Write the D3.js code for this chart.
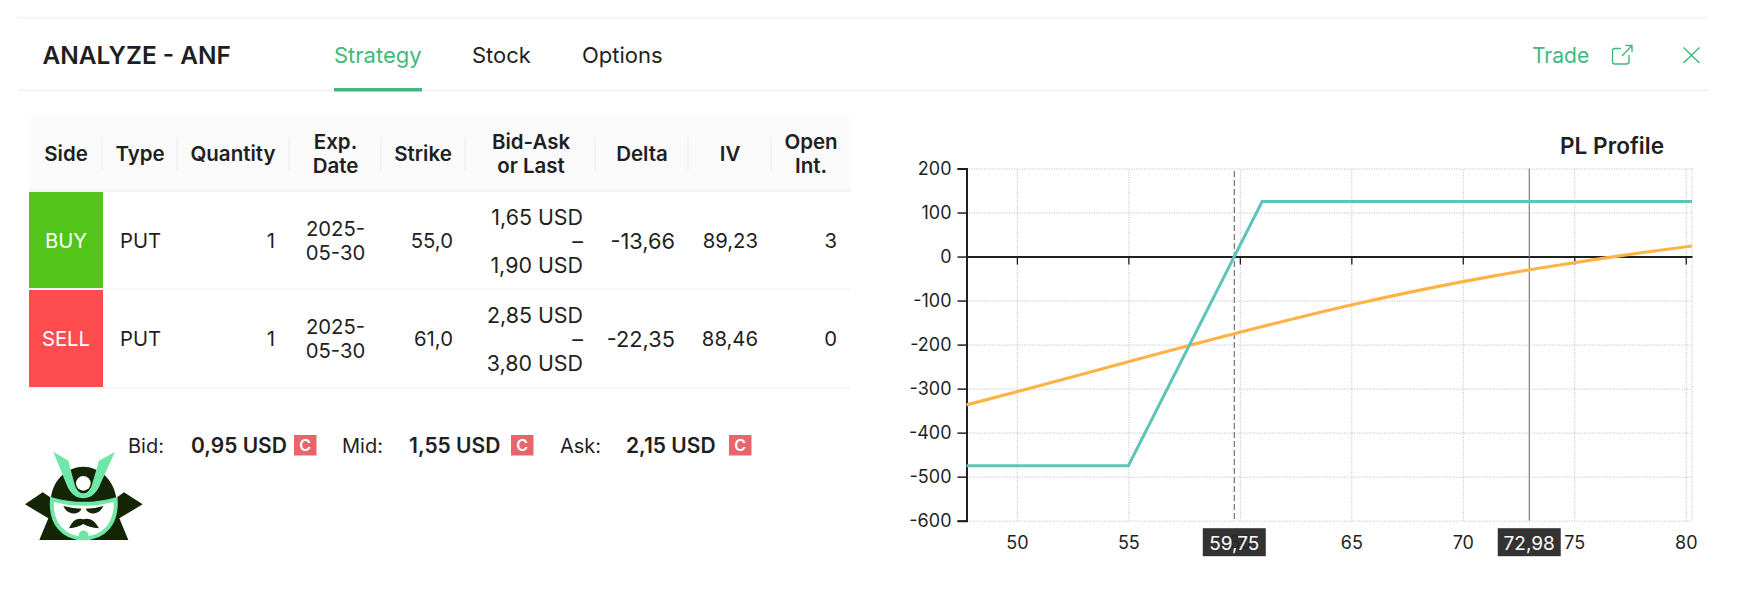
<!DOCTYPE html>
<html>
<head>
<meta charset="utf-8">
<script src="https://cdn.jsdelivr.net/npm/d3@7"></script>
<style>
  html, body { margin: 0; padding: 0; background: #fff; }
  svg { display: block; font-family: Inter, "Noto Sans", sans-serif; }
  .grid line { stroke: #c4c4c4; stroke-dasharray: 1.2 1.3; }
  .grid path { display: none; }
</style>
</head>
<body>
<div id="graf"></div>
<script>
// header
tabs = ['Strategy', 'Stock', 'Options']

// table
headers = [['Side'], ['Type'], ['Quantity'], ['Exp.', 'Date'], ['Strike'], ['Bid-Ask', 'or Last'], ['Delta'], ['IV'], ['Open', 'Int.']]
sides = ['BUY', 'SELL']
types = ['PUT', 'PUT']
quantities = ['1', '1']
expDates = [['2025-', '05-30'], ['2025-', '05-30']]
strikes = ['55,0', '61,0']
bidAsk = [['1,65 USD', '–', '1,90 USD'], ['2,85 USD', '–', '3,80 USD']]
deltas = ['-13,66', '-22,35']
ivs = ['89,23', '88,46']
openInts = ['3', '0']

// quotes
quoteLabels = ['Bid:', 'Mid:', 'Ask:']
quoteValues = ['0,95 USD', '1,55 USD', '2,15 USD']

// PL profile
price = [47.74, 55, 61, 80.28]
plExpiry = [-475, -475, 125, 125]
priceNow = [47.74, 50, 55, 60, 65, 70, 72.98, 75, 76.8, 80.28]
plNow = [-337, -307, -239, -172, -110, -57, -30, -14, 0, 24]
xTicks = [50, 55, 60, 65, 70, 75, 80]
yTicks = [200, 100, 0, -100, -200, -300, -400, -500, -600]
breakEven = 59.75
spot = 72.98

svg = d3.select('#graf').append('svg')
  .attr('width', 1754)
  .attr('height', 598)

GREEN = '#3fb97c'
INK = '#1f1f1f'

// header lines and tabs
svg.append('line').attr('x1', 18).attr('x2', 1709).attr('y1', 17.5).attr('y2', 17.5)
  .attr('stroke', '#f3f3f3').attr('stroke-width', 1.5)
svg.append('line').attr('x1', 18).attr('x2', 1709).attr('y1', 90.5).attr('y2', 90.5)
  .attr('stroke', '#efefef').attr('stroke-width', 1.5)

svg.append('text').attr('x', 42.5).attr('y', 64)
  .attr('font-size', 24.4).attr('font-weight', 600).attr('fill', INK)
  .text('ANALYZE - ANF')

tabX = [334, 472, 582]
svg.selectAll('.tab').data(tabs).enter().append('text')
  .attr('class', 'tab')
  .attr('x', (d, i) => tabX[i]).attr('y', 63)
  .attr('font-size', 22)
  .attr('fill', (d, i) => i == 0 ? GREEN : INK)
  .text(d => d)
svg.append('rect').attr('x', 334).attr('y', 88).attr('width', 88).attr('height', 3.5).attr('fill', GREEN)

svg.append('text').attr('x', 1532).attr('y', 63)
  .attr('font-size', 21).attr('fill', GREEN).text('Trade')

// external link icon
icon = svg.append('g').attr('fill', 'none').attr('stroke', GREEN).attr('stroke-width', 1.4)
icon.append('path').attr('d', 'M1621,48.5 H1615 Q1612.5,48.5 1612.5,51 V61.5 Q1612.5,64 1615,64 H1626.5 Q1629,64 1629,61.5 V55')
icon.append('path').attr('d', 'M1622,56 L1632,45.5 M1625.5,45.5 H1632 V52')
// close icon
svg.append('path').attr('d', 'M1683.5,47.5 L1699.5,63 M1699.5,47.5 L1683.5,63')
  .attr('stroke', GREEN).attr('stroke-width', 1.4).attr('fill', 'none')

// table
svg.append('path').attr('d', 'M29,190.5 V123 Q29,117 35,117 H845 Q851,117 851,123 V190.5 Z').attr('fill', '#fafafa')
svg.append('line').attr('x1', 29).attr('x2', 851).attr('y1', 191).attr('y2', 191).attr('stroke', '#efefef').attr('stroke-width', 1.5)
svg.append('line').attr('x1', 29).attr('x2', 851).attr('y1', 289).attr('y2', 289).attr('stroke', '#f0f0f0').attr('stroke-width', 1.2)
svg.append('line').attr('x1', 29).attr('x2', 851).attr('y1', 388).attr('y2', 388).attr('stroke', '#f0f0f0').attr('stroke-width', 1.2)

sepX = [102, 177, 289, 381, 465, 595, 688, 771]
svg.selectAll('.sep').data(sepX).enter().append('line')
  .attr('class', 'sep')
  .attr('x1', d => d).attr('x2', d => d)
  .attr('y1', 137).attr('y2', 170)
  .attr('stroke', '#ececec')

headX = [66, 140, 233, 335.5, 423, 531, 642, 730, 811]
headers.forEach((lines, i) => {
  lines.forEach((t, j) => {
    svg.append('text')
      .attr('x', headX[i])
      .attr('y', lines.length == 1 ? 161 : 149 + j * 24)
      .attr('text-anchor', 'middle')
      .attr('font-size', 20.5).attr('font-weight', 600).attr('fill', INK)
      .text(t)
  })
})

rowY = [241, 339]
sideColor = ['#52c41a', '#ff4d4f']
cellTop = [192, 290]

sides.forEach((s, i) => {
  svg.append('rect').attr('x', 29).attr('y', cellTop[i]).attr('width', 74).attr('height', i == 0 ? 96 : 97)
    .attr('fill', sideColor[i])
  cell(66, rowY[i], 'middle', s, '#fff')
  cell(120, rowY[i], 'start', types[i])
  cell(275, rowY[i], 'end', quantities[i])
  expDates[i].forEach((t, j) => cell(335.5, rowY[i] - 12 + j * 24, 'middle', t))
  cell(453, rowY[i], 'end', strikes[i])
  bidAsk[i].forEach((t, j) => cell(583, rowY[i] - 24 + j * 24, 'end', t, INK, 21.4))
  cell(675, rowY[i], 'end', deltas[i], INK, 21.8)
  cell(758, rowY[i], 'end', ivs[i])
  cell(837, rowY[i], 'end', openInts[i])
})

function cell(x, y, anchor, t, color, size) {
  svg.append('text')
    .attr('x', x).attr('y', y)
    .attr('dy', '0.36em')
    .attr('text-anchor', anchor)
    .attr('font-size', size || 20.3)
    .attr('fill', color || INK)
    .text(t)
}

// quotes
labelX = [128, 342, 560]
valueX = [191, 409, 626]
badgeX = [294, 511, 729]
quoteLabels.forEach((q, i) => {
  svg.append('text').attr('x', labelX[i]).attr('y', 445.5).attr('dy', '0.36em')
    .attr('font-size', 20).attr('fill', INK).text(q)
  svg.append('text').attr('x', valueX[i]).attr('y', 445.5).attr('dy', '0.36em')
    .attr('font-size', 21).attr('font-weight', 600).attr('fill', INK).text(quoteValues[i])
  svg.append('rect').attr('x', badgeX[i]).attr('y', 435).attr('width', 22.5).attr('height', 20.5).attr('fill', '#e8666b')
  svg.append('text').attr('x', badgeX[i] + 11.2).attr('y', 445.5).attr('dy', '0.36em')
    .attr('text-anchor', 'middle')
    .attr('font-size', 16).attr('font-weight', 600).attr('fill', '#fff').text('C')
})

// logo, drawn in a 3x box
logo = svg.append('g').attr('transform', 'translate(0,440) scale(0.3333)')
logo.append('path').attr('fill', '#132505')
  .attr('d', 'M75,193 L128,157 L153,173 C160,115 205,80 250,80 C295,80 340,115 349,173 L372,157 L428,193 L358,235 L385,300 L118,300 L145,235 Z')
logo.append('path').attr('fill', '#fff')
  .attr('d', 'M158,180 Q250,205 345,180 C350,250 310,293 250,293 C190,293 152,250 158,180 Z')
logo.append('path').attr('fill', 'none').attr('stroke', '#6ee7a8').attr('stroke-width', 12)
  .attr('d', 'M156,178 Q250,205 347,178 C352,250 312,295 250,295 C190,295 150,250 156,178 Z')
logo.append('path').attr('fill', '#6ee7a8')
  .attr('d', 'M160,35 L205,62 Q215,100 226,140 Q236,160 250,160 Q264,160 274,140 L297,62 L345,35 L302,130 Q285,175 250,175 Q215,175 198,130 Z')
logo.append('circle').attr('cx', 250).attr('cy', 130).attr('r', 22).attr('fill', '#fff')
logo.append('path').attr('fill', '#132505')
  .attr('d', 'M190,198 Q220,206 245,206 Q238,222 215,220 Q198,216 190,198 Z M310,198 Q285,206 257,206 Q264,222 285,220 Q302,216 310,198 Z')
logo.append('path').attr('fill', '#132505')
  .attr('d', 'M207,265 Q222,230 250,238 Q278,230 297,265 Q265,262 250,252 Q235,262 207,265 Z')
logo.append('path').attr('fill', '#6ee7a8')
  .attr('d', 'M237,298 V280 Q250,262 265,280 V298 Z')

// chart
margins = { top: 168.5, left: 966.5, right: 62, bottom: 77.3 }
ancho = 1754 - margins.left - margins.right
alto = 598 - margins.top - margins.bottom

g = svg.append('g')
  .attr('transform', `translate(${margins.left}, ${margins.top})`)

x = d3.scaleLinear().domain([47.74, 80.28]).range([0, ancho])
y = d3.scaleLinear().domain([-600, 200]).range([alto, 0])

// grid
g.append('g').attr('class', 'grid')
  .call(d3.axisLeft(y).tickValues(yTicks).tickSize(-ancho).tickFormat(''))
g.append('g').attr('class', 'grid')
  .attr('transform', `translate(0, ${alto})`)
  .call(d3.axisBottom(x).tickValues(xTicks).tickSizeInner(-alto).tickSizeOuter(0).tickFormat(''))
g.append('line').attr('x1', ancho).attr('x2', ancho).attr('y1', 0).attr('y2', alto)
  .attr('stroke', '#c4c4c4').attr('stroke-dasharray', '1.2 1.3')

// x labels under the plot, ticks on the zero line
xAxis = g.append('g')
  .attr('transform', `translate(0, ${y(0)})`)
  .call(d3.axisBottom(x).tickValues(xTicks).tickSizeInner(8).tickSizeOuter(0).tickFormat(d => d))
xAxis.select('.domain').attr('stroke', INK).attr('stroke-width', 2)
xAxis.selectAll('.tick line').attr('stroke', INK).attr('stroke-width', 1.3)
xAxis.selectAll('.tick text')
  .attr('y', alto - y(0) + 22)
  .attr('dy', '0.36em')
  .attr('font-family', 'Inter')
  .attr('font-size', 18)
  .attr('fill', INK)

yAxis = g.append('g')
  .call(d3.axisLeft(y).tickValues(yTicks).tickSize(9).tickPadding(6).tickFormat(d => d))
yAxis.select('.domain').attr('stroke', INK).attr('stroke-width', 2)
yAxis.selectAll('.tick line').attr('stroke', INK).attr('stroke-width', 1.5)
yAxis.selectAll('.tick text')
  .attr('font-family', 'Inter')
  .attr('font-size', 18)
  .attr('fill', INK)

// lines
lineExpiry = d3.line().x((d, i) => x(price[i])).y(d => y(d))
lineNow = d3.line().x((d, i) => x(priceNow[i])).y(d => y(d)).curve(d3.curveMonotoneX)

// markers for break even and spot
g.append('line')
  .attr('x1', x(breakEven)).attr('x2', x(breakEven))
  .attr('y1', 2.5).attr('y2', alto)
  .attr('stroke', '#555').attr('stroke-dasharray', '6 3')
g.append('line')
  .attr('x1', x(spot)).attr('x2', x(spot))
  .attr('y1', 0).attr('y2', alto)
  .attr('stroke', '#666')

g.append('path').datum(plNow)
  .attr('d', lineNow)
  .attr('fill', 'none').attr('stroke', '#ffb347').attr('stroke-width', 3.2)
g.append('path').datum(plExpiry)
  .attr('d', lineExpiry)
  .attr('fill', 'none').attr('stroke', '#5fc4b8').attr('stroke-width', 3)

// value boxes
;[breakEven, spot].forEach(v => {
  g.append('rect')
    .attr('x', x(v) - 31.5).attr('y', alto + 7.5)
    .attr('width', 63).attr('height', 28)
    .attr('fill', '#222').attr('opacity', 0.92)
  g.append('text')
    .attr('x', x(v)).attr('y', alto + 22)
    .attr('dy', '0.36em')
    .attr('text-anchor', 'middle')
    .attr('font-size', 19)
    .attr('fill', '#fff')
    .text(String(v).replace('.', ','))
})

svg.append('text').attr('x', 1664).attr('y', 153.5)
  .attr('text-anchor', 'end')
  .attr('font-size', 22.6).attr('font-weight', 600).attr('fill', INK)
  .text('PL Profile')
</script>
</body>
</html>
